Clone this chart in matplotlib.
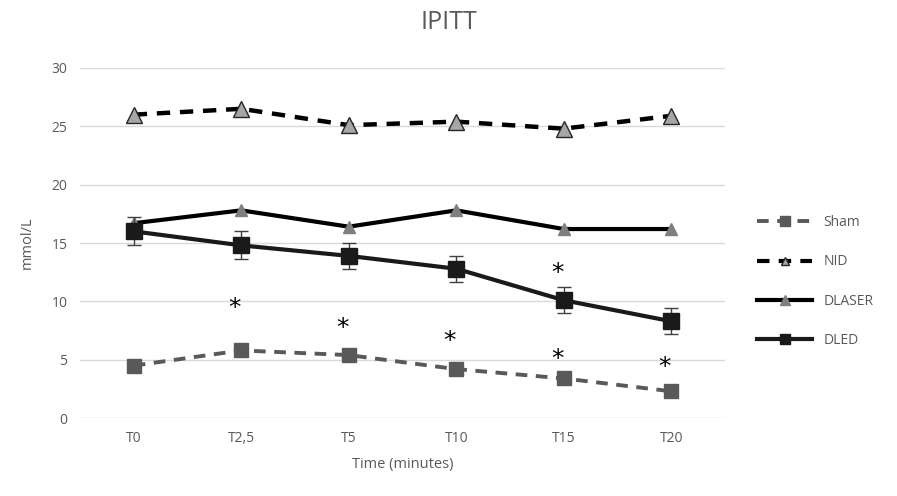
import matplotlib
matplotlib.use("Agg")
import matplotlib.pyplot as plt
from matplotlib.lines import Line2D
import numpy as np

plt.rcParams["font.family"] = ["Open Sans", "DejaVu Sans"]

# ─── data ────────────────────────────────────────────────
times = ["T0", "T2,5", "T5", "T10", "T15", "T20"]

sham   = [4.5, 5.8, 5.4, 4.2, 3.4, 2.3]
nid    = [26.0, 26.5, 25.1, 25.4, 24.8, 25.9]
dlaser = [16.7, 17.8, 16.4, 17.8, 16.2, 16.2]
dled   = [16.0, 14.8, 13.9, 12.8, 10.1, 8.3]
dled_err = [1.2, 1.2, 1.1, 1.1, 1.1, 1.1]

# significance marks: (time index, y)
star_idx = [1, 2, 3, 4, 4, 5]
star_y   = [9.4, 7.7, 6.6, 12.4, 5.1, 4.4]
# ─────────────────────────────────────────────────────────

x = np.arange(len(times))

fig = plt.figure(figsize=(8.97, 4.96), dpi=100)
ax = fig.add_axes([0.0892, 0.157, 0.719, 0.706])

dash = (0, (3, 2.2))
ax.plot(x, sham, color="#595959", linestyle=dash, linewidth=2.8,
        marker="s", markersize=10, markerfacecolor="#595959",
        markeredgecolor="#595959", zorder=3)
ax.plot(x, nid, color="black", linestyle=dash, linewidth=3.2,
        marker="^", markersize=12, markerfacecolor="#a6a6a6",
        markeredgecolor="#262626", markeredgewidth=1.0, zorder=3)
ax.plot(x, dlaser, color="black", linewidth=3.0,
        marker="^", markersize=8, markerfacecolor="#7f7f7f",
        markeredgecolor="#7f7f7f", zorder=3)
ax.errorbar(x, dled, yerr=dled_err, color="#1a1a1a", linewidth=3.0,
            marker="s", markersize=11, markerfacecolor="#1a1a1a",
            markeredgecolor="#1a1a1a", ecolor="#404040", elinewidth=1.0,
            capsize=5, capthick=1.0, zorder=3)

for i, yv in zip(star_idx, star_y):
    ax.text(x[i] - 0.06, yv, "*", ha="center", va="center",
            fontsize=18, color="black", family="DejaVu Sans", zorder=4)

ax.set_xlim(-0.5, len(times) - 0.5)
ax.set_ylim(0, 30)
ax.set_yticks(range(0, 31, 5))
ax.set_xticks(x)
ax.set_xticklabels(times)
ax.tick_params(axis="both", length=0, labelsize=10, colors="#595959", pad=9)
ax.grid(axis="y", color="#d9d9d9", linewidth=1.0, zorder=0)
ax.set_axisbelow(True)
for s in ax.spines.values():
    s.set_visible(False)

ax.set_ylabel("mmol/L", fontsize=10.5, color="#595959", labelpad=12)
ax.set_xlabel("Time (minutes)", fontsize=10.5, color="#595959", labelpad=8)
fig.text(0.5, 0.955, "IPITT", ha="center", va="center",
         fontsize=18, color="#595959")

handles = [
    Line2D([], [], color="#595959", linestyle=dash, linewidth=2.8,
           marker="s", markersize=7, markerfacecolor="#595959",
           markeredgecolor="#595959"),
    Line2D([], [], color="black", linestyle=dash, linewidth=3.0,
           marker="^", markersize=6, markerfacecolor="#a6a6a6",
           markeredgecolor="#262626"),
    Line2D([], [], color="black", linewidth=3.0, marker="^", markersize=7,
           markerfacecolor="#7f7f7f", markeredgecolor="#7f7f7f"),
    Line2D([], [], color="#1a1a1a", linewidth=3.0, marker="s", markersize=7,
           markerfacecolor="#1a1a1a", markeredgecolor="#1a1a1a"),
]
ax.legend(handles, ["Sham", "NID", "DLASER", "DLED"], loc="center left",
          bbox_to_anchor=(1.03, 0.39), frameon=False, fontsize=10,
          labelcolor="#595959", handlelength=4.0, labelspacing=1.75)

fig.savefig("out.png", dpi=100)
